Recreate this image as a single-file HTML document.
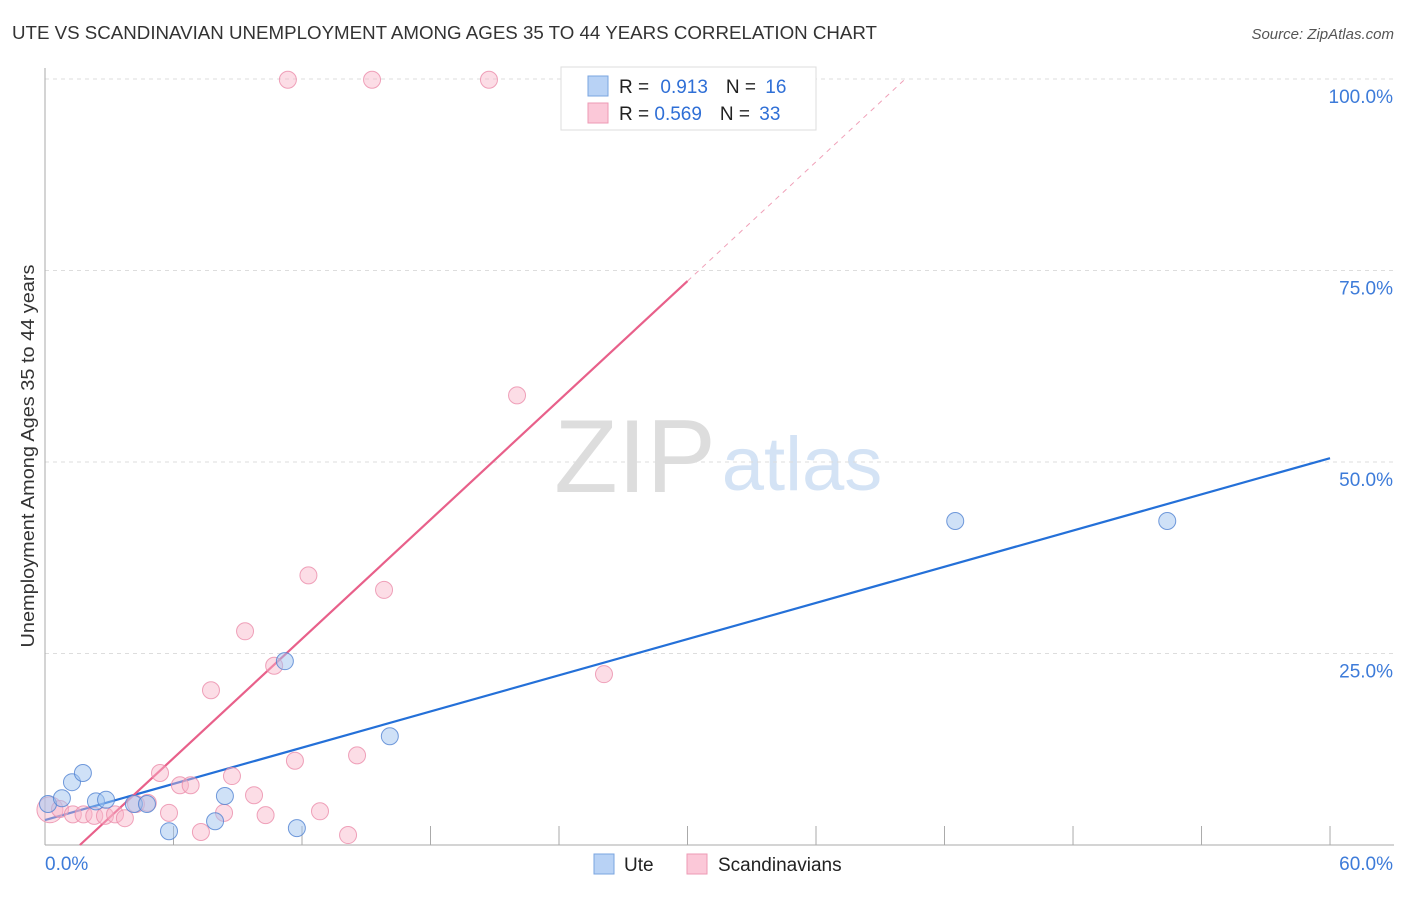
<!DOCTYPE html>
<html><head><meta charset="utf-8"><style>
body{margin:0;background:#fff;font-family:"Liberation Sans",sans-serif}
svg text{font-family:"Liberation Sans",sans-serif}
</style></head><body>
<svg id="c" width="1406" height="892" xmlns="http://www.w3.org/2000/svg">
<text x="12" y="39" font-size="18" fill="#333" textLength="865" lengthAdjust="spacingAndGlyphs">UTE VS SCANDINAVIAN UNEMPLOYMENT AMONG AGES 35 TO 44 YEARS CORRELATION CHART</text>
<text x="1394" y="39" font-size="15" fill="#555" font-style="italic" text-anchor="end">Source: ZipAtlas.com</text>
<text transform="translate(34,456) rotate(-90)" font-size="18" fill="#333" text-anchor="middle" textLength="383" lengthAdjust="spacingAndGlyphs">Unemployment Among Ages 35 to 44 years</text>
<g><text x="635" y="492" font-size="104" fill="#ddd" font-family="Liberation Serif" text-anchor="middle">ZIP</text><text x="802" y="490" font-size="76" fill="#d4e3f5" text-anchor="middle">atlas</text></g>
<g id="grid"></g><g id="axes"></g><g id="lines"></g><g id="pts"></g>
<g>
<rect x="561" y="67" width="255" height="63" fill="#fff" stroke="#ddd"/>
<rect x="588" y="76" width="20" height="20" fill="#b8d2f5" stroke="#7aa5e0"/>
<rect x="588" y="103" width="20" height="20" fill="#fbc8d8" stroke="#ee9ab4"/>
<text x="619" y="93" font-size="19" fill="#222">R = <tspan fill="#2f6fd6" dx="6">0.913</tspan><tspan dx="18" fill="#222">N = </tspan><tspan fill="#2f6fd6" dx="4">16</tspan></text>
<text x="619" y="120" font-size="19" fill="#222">R = <tspan fill="#2f6fd6">0.569</tspan><tspan dx="18" fill="#222">N = </tspan><tspan fill="#2f6fd6" dx="4">33</tspan></text>
</g>
<g>
<rect x="594" y="854" width="20" height="20" fill="#b8d2f5" stroke="#7aa5e0"/>
<text x="624" y="871" font-size="19" fill="#222">Ute</text>
<rect x="687" y="854" width="20" height="20" fill="#fbc8d8" stroke="#ee9ab4"/>
<text x="718" y="871" font-size="19" fill="#222">Scandinavians</text>
</g>
</svg>
<script>
const uteX=[0.14,0.79,1.26,1.77,2.38,2.85,4.15,4.76,5.79,7.94,8.4,11.2,11.76,16.1,42.5,52.4];
const uteY=[5.35,6.1,8.2,9.4,5.7,5.9,5.35,5.35,1.8,3.1,6.4,24.0,2.2,14.2,42.3,42.3];
const scX=[0.23,0.7,1.3,1.8,2.3,2.8,3.27,3.73,4.25,4.8,5.37,5.79,6.3,6.8,7.28,7.75,8.36,8.73,9.34,9.76,10.3,10.7,11.34,11.67,12.3,12.84,14.15,14.57,15.27,15.83,20.73,22.04,26.1];
const scY=[4.6,4.7,4.0,4.0,3.8,3.8,4.0,3.5,5.35,5.5,9.4,4.2,7.8,7.8,1.7,20.2,4.2,9.0,27.9,6.5,3.9,23.4,99.9,11.0,35.2,4.4,1.3,11.7,99.9,33.3,99.9,58.7,22.3];
const yTicks=[25,50,75,100];
const xTicks=[0,6,12,18,24,30,36,42,48,54,60];
const uteLine=[3.26,50.5];
const scLine={slope:2.595,intercept:-4.23};
const NS="http://www.w3.org/2000/svg";
const X=v=>45+v*21.417, Y=v=>845-v*7.66;
function mk(p,t,a){const e=document.createElementNS(NS,t);for(const k in a)e.setAttribute(k,a[k]);document.getElementById(p).appendChild(e);return e;}
for(const t of yTicks){
 const g=mk('grid','line',{x1:45,x2:1394,y1:Y(t),y2:Y(t),stroke:'#ddd','stroke-dasharray':'4,4'});
 
 
 const l=mk('axes','text',{x:1393,y:Y(t)+24,'font-size':19,fill:'#3d7bd9','text-anchor':'end'});l.textContent=t.toFixed(1)+'%';
 
 
}
mk('axes','line',{x1:45,x2:45,y1:68,y2:845,stroke:'#aaa'});
mk('axes','line',{x1:45,x2:1394,y1:845,y2:845,stroke:'#aaa'});
for(const t of xTicks.slice(1)){const e=mk('axes','line',{x1:X(t),x2:X(t),y1:826,y2:845,stroke:'#aaa'});
 
 }
let a=mk('axes','text',{x:45,y:870,'font-size':19,fill:'#3d7bd9'});a.textContent='0.0%';

a=mk('axes','text',{x:1393,y:870,'font-size':19,fill:'#3d7bd9','text-anchor':'end'});a.textContent='60.0%';

let ln=mk('lines','line',{x1:X(0),y1:Y(uteLine[0]),x2:X(60),y2:Y(uteLine[1]),stroke:'#2470d8','stroke-width':2.2});


const x0=-scLine.intercept/scLine.slope, x1=30, x2=(100-scLine.intercept)/scLine.slope;
ln=mk('lines','line',{x1:X(x0),y1:Y(0),x2:X(x1),y2:Y(scLine.slope*x1+scLine.intercept),stroke:'#e8608a','stroke-width':2.2});


ln=mk('lines','line',{x1:X(x1),y1:Y(scLine.slope*x1+scLine.intercept),x2:X(x2),y2:Y(100),stroke:'#f0a0b8','stroke-width':1,'stroke-dasharray':'5,5'});


scX.forEach((v,i)=>{const c=mk('pts','circle',{cx:X(v),cy:Y(scY[i]),r:i==0?13:8.5,fill:'rgba(248,180,200,0.45)',stroke:'rgba(235,140,170,0.8)'});
 
 });
uteX.forEach((v,i)=>{const c=mk('pts','circle',{cx:X(v),cy:Y(uteY[i]),r:8.5,fill:'rgba(160,195,240,0.5)',stroke:'rgba(80,130,210,0.8)'});
 
 });
</script>
</body></html>
